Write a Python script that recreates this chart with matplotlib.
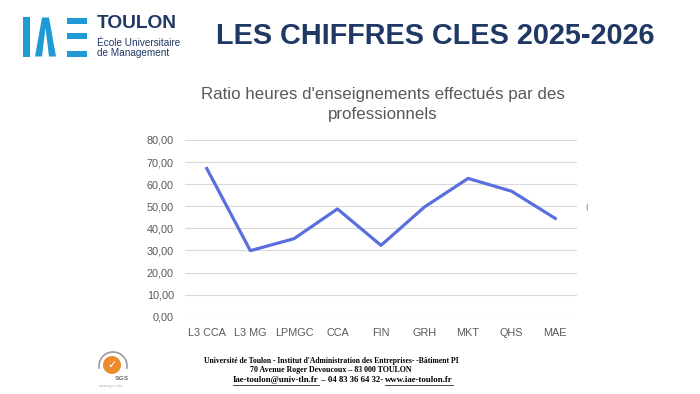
import matplotlib.pyplot as plt
import matplotlib.patches as mpatches
import numpy as np

# données du graphique
formations = ['L3 CCA', 'L3 MG', 'LPMGC', 'CCA', 'FIN', 'GRH', 'MKT', 'QHS', 'MAE']
ratio = [67.1, 29.9, 35.3, 48.8, 32.3, 49.7, 62.6, 56.8, 44.5]
yticks = [0, 10, 20, 30, 40, 50, 60, 70, 80]

navy = '#1f3864'
blue_logo = '#1e9ad6'
grey = '#595959'

W, H = 700, 394
fig = plt.figure(figsize=(W / 100, H / 100), dpi=100)


def fx(px):
    return px / W


def fy(py):
    return 1 - py / H


def rect(x0, y0, w, h, c):
    fig.patches.append(mpatches.Rectangle((fx(x0), fy(y0 + h)), fx(w), h / H,
                                          transform=fig.transFigure, color=c, lw=0))


# logo IAE
rect(23, 17.5, 6.5, 39, blue_logo)
lam = mpatches.Polygon([(fx(35), fy(56.5)), (fx(42), fy(17.5)), (fx(49), fy(17.5)), (fx(56), fy(56.5)),
                        (fx(49), fy(56.5)), (fx(45.5), fy(28)), (fx(42), fy(56.5))],
                       closed=True, transform=fig.transFigure, color=blue_logo, lw=0)
fig.patches.append(lam)
for y0 in [17.5, 33, 50.5]:
    rect(67, y0, 20, 6.2, blue_logo)
fig.text(fx(97), fy(24), 'TOULON', fontsize=13.8, fontweight='bold', color=navy,
         family='Liberation Sans', va='center', ha='left')
fig.text(fx(97), fy(42.5), 'École Universitaire', fontsize=7.2, color=navy,
         family='Liberation Sans', va='center', ha='left')
fig.text(fx(97), fy(53.5), 'de Management', fontsize=7.2, color=navy,
         family='Liberation Sans', va='center', ha='left')

# titre principal
fig.text(fx(435), fy(36), 'LES CHIFFRES CLES 2025-2026', fontsize=20.8, fontweight='bold',
         color=navy, family='Liberation Sans', va='center', ha='center')

# titre du graphique
fig.text(fx(383), fy(95), "Ratio heures d'enseignements effectués par des", fontsize=12.2,
         color=grey, family='Liberation Sans', va='center', ha='center')
fig.text(fx(383), fy(115), 'professionnels', fontsize=12.2,
         color=grey, family='Liberation Sans', va='center', ha='center')

# graphique
ax = fig.add_axes([fx(185), fy(316.7), fx(577 - 185), (316.7 - 140) / H])
x = np.arange(len(formations))
ax.plot(x, ratio, color='#5a6fdc', lw=2.3)
ax.set_xlim(-0.5, len(formations) - 0.5)
ax.set_ylim(0, 80)
ax.set_yticks(yticks)
ax.set_yticklabels([('%.2f' % v).replace('.', ',') for v in yticks])
ax.set_xticks(x)
ax.set_xticklabels(formations)
ax.grid(axis='y', color='#d9d9d9', lw=0.8)
ax.set_axisbelow(True)
for s in ax.spines.values():
    s.set_visible(False)
ax.tick_params(length=0, labelsize=7.8, colors=grey, pad=8)
for lab in ax.get_xticklabels() + ax.get_yticklabels():
    lab.set_family('Liberation Sans')

# petite marque parasite de la capture
fig.text(fx(587), fy(207), '(', fontsize=5, color='#555555', ha='center', va='center')

# logo SGS
fig.patches.append(mpatches.Ellipse((fx(112), fy(365)), fx(18), 18 / H, transform=fig.transFigure,
                                    facecolor='#ec8a2c', edgecolor='none'))
fig.patches.append(mpatches.Arc((fx(113), fy(366)), fx(28), 28 / H, theta1=-20, theta2=200,
                                transform=fig.transFigure, color='#9a9a9a', lw=1.2))
fig.text(fx(112), fy(365), '✓', fontsize=8, color='white', ha='center', va='center',
         family='DejaVu Sans', fontweight='bold')
fig.text(fx(122), fy(378), 'SGS', fontsize=4.5, color='#7a7a7a', ha='center', va='center',
         fontweight='bold')
fig.text(fx(111), fy(386), 'www.sgs.com', fontsize=2.5, color='#aaaaaa', ha='center', va='center')

# pied de page
foot_kw = dict(fontweight='bold', color='black', family='Liberation Serif', va='center')
fig.text(fx(331), fy(361), "Université de Toulon - Institut d'Administration des Entreprises- -Bâtiment PI",
         fontsize=5.5, ha='center', **foot_kw)
fig.text(fx(331), fy(370), '70 Avenue Roger Devoucoux – 83 000 TOULON', fontsize=5.7,
         ha='center', **foot_kw)

# 3e ligne : morceaux posés bout à bout, liens soulignés
pieces = [('Iae-toulon@univ-tln.fr', True), (' – 04 83 36 64 32- ', False),
          ('www.iae-toulon.fr', True)]
r = fig.canvas.get_renderer()
widths = []
for s, _ in pieces:
    t = fig.text(0, 0, s, fontsize=6.3, **foot_kw)
    widths.append(t.get_window_extent(r).width)
    t.remove()
xpos = 343 - sum(widths) / 2
for (s, ul), w in zip(pieces, widths):
    fig.text(fx(xpos), fy(380), s, fontsize=6.3, ha='left', **foot_kw)
    if ul:
        fig.add_artist(plt.Line2D([fx(xpos), fx(xpos + w)], [fy(384.5), fy(384.5)],
                                  color='black', lw=0.5))
    xpos += w

fig.savefig('out.png', dpi=100)
